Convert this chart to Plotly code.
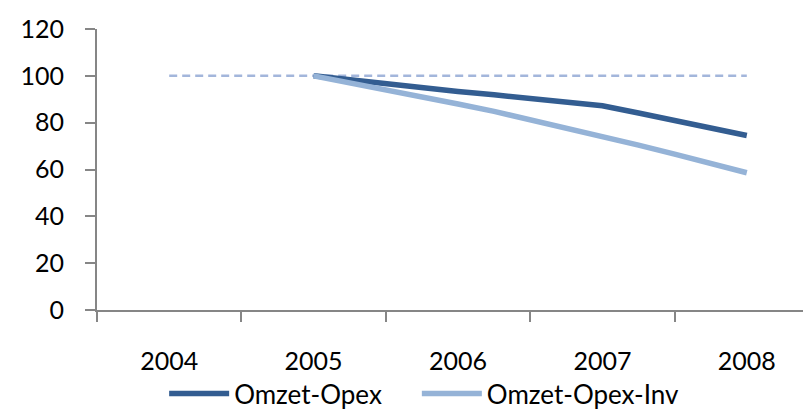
import plotly.graph_objects as go

# quarterly index values, 2005 = 100
periods = [2005.0, 2005.25, 2005.5, 2005.75, 2006.0, 2006.25, 2006.5,
           2006.75, 2007.0, 2007.25, 2007.5, 2007.75, 2008.0]
omzet_opex = [100.0, 98.3, 96.35, 94.8, 93.35, 91.9, 90.5,
              88.9, 87.2, 84.1, 80.9, 77.7, 74.5]
omzet_opex_inv = [100.0, 97.1, 94.2, 91.2, 88.0, 84.8, 81.3,
                  77.8, 74.1, 70.4, 66.6, 62.7, 58.6]

ref_years = [2004, 2008]
ref_values = [100, 100]

years = [2004, 2005, 2006, 2007, 2008]
year_labels = ["2004", "2005", "2006", "2007", "2008"]
boundaries = [2003.5, 2004.5, 2005.5, 2006.5, 2007.5, 2008.5]

dark_blue = "#335D91"
light_blue = "#95B3D7"
axis_grey = "#868686"

fig = go.Figure()

fig.add_trace(
    go.Scatter(
        x=ref_years,
        y=ref_values,
        mode="lines",
        line=dict(color="#A3B6DB", width=2.5, dash="8px,5px"),
        showlegend=False,
        hoverinfo="skip",
    )
)

fig.add_trace(
    go.Scatter(
        x=periods,
        y=omzet_opex,
        mode="lines",
        name="Omzet-Opex",
        line=dict(color=dark_blue, width=5.5),
        legend="legend",
    )
)

fig.add_trace(
    go.Scatter(
        x=periods,
        y=omzet_opex_inv,
        mode="lines",
        name="Omzet-Opex-Inv",
        line=dict(color=light_blue, width=5.5),
        legend="legend2",
    )
)

# one legend per series so the gap between the two entries can be set
legend_style = dict(
    orientation="h",
    xanchor="left",
    y=-0.2976,
    yanchor="middle",
    itemwidth=60,
    font=dict(size=26),
    bgcolor="rgba(0,0,0,0)",
)

fig.update_layout(
    width=811,
    height=409,
    margin=dict(l=89, r=0, t=21, b=99),
    plot_bgcolor="white",
    paper_bgcolor="white",
    font=dict(family="Lato, Open Sans, sans-serif", size=25, color="black"),
    showlegend=True,
    legend=dict(x=0.093, **legend_style),
    legend2=dict(x=0.443, **legend_style),
    xaxis=dict(
        range=[2003.5, 2008.5],
        tickmode="array",
        tickvals=years,
        ticktext=year_labels,
        ticks="",
        showline=True,
        linecolor=axis_grey,
        linewidth=2,
        showgrid=False,
        zeroline=False,
        ticklabelstandoff=28,
        minor=dict(
            tickmode="array",
            tickvals=boundaries,
            ticks="outside",
            ticklen=10,
            tickwidth=2,
            tickcolor=axis_grey,
            showgrid=False,
        ),
    ),
    yaxis=dict(
        range=[0, 120],
        dtick=20,
        ticks="outside",
        ticklen=10,
        tickwidth=2,
        tickcolor=axis_grey,
        showline=True,
        linecolor=axis_grey,
        linewidth=2,
        showgrid=False,
        zeroline=False,
        ticklabelstandoff=16,
    ),
)

fig.write_html("out.html")
